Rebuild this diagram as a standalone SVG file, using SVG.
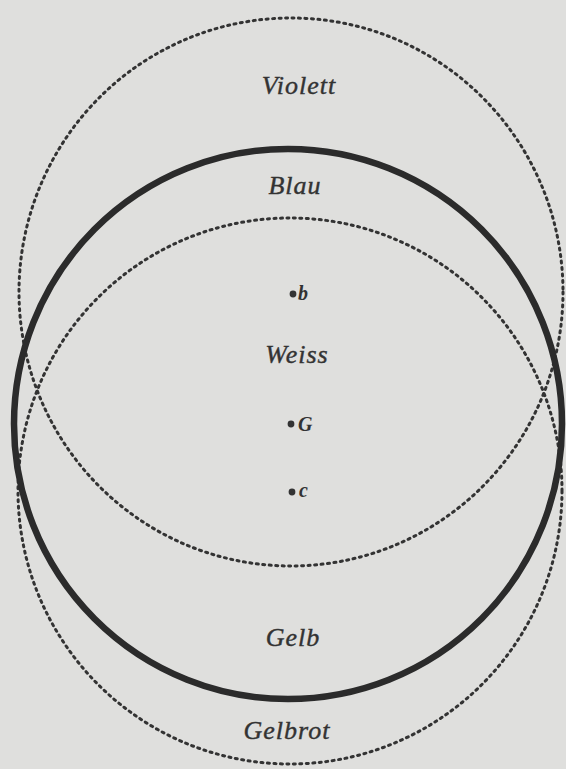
<svg xmlns="http://www.w3.org/2000/svg" width="566" height="769" viewBox="0 0 566 769">
<style>
.bg{fill:#dfdfdd}
.thick{fill:none;stroke:#2b2b2b;stroke-width:6.5}
.dot{fill:none;stroke:#333;stroke-width:3;stroke-dasharray:2 4.5;stroke-linecap:round}
.lbl{font-family:"Liberation Serif","DejaVu Serif",serif;font-style:italic;font-size:26px;letter-spacing:1px;fill:#333;text-anchor:middle;stroke:#333;stroke-width:0.4}
.pt{fill:#333}
.ptl{font-family:"Liberation Serif","DejaVu Serif",serif;font-style:italic;font-weight:bold;font-size:20px;fill:#333}
</style>
<rect class="bg" x="0" y="0" width="566" height="769"/>
<g id="connectors">
<ellipse id="upper" class="dot" cx="291" cy="292" rx="272" ry="274"/>
<ellipse id="lower" class="dot" cx="290" cy="491" rx="272" ry="273"/>
<ellipse id="main" class="thick" cx="288" cy="424" rx="274" ry="275"/>
</g>
<g id="violett"><text class="lbl" x="299" y="94">Violett</text></g>
<g id="blau"><text class="lbl" x="295" y="194">Blau</text></g>
<g id="b"><circle class="pt" cx="293" cy="294" r="3.4"/><text class="ptl" x="298" y="300">b</text></g>
<g id="weiss"><text class="lbl" x="297" y="363">Weiss</text></g>
<g id="G"><circle class="pt" cx="291" cy="424" r="3.4"/><text class="ptl" x="298" y="431">G</text></g>
<g id="c"><circle class="pt" cx="292" cy="492" r="3.4"/><text class="ptl" x="299" y="497">c</text></g>
<g id="gelb"><text class="lbl" x="293" y="646">Gelb</text></g>
<g id="gelbrot"><text class="lbl" x="287" y="739">Gelbrot</text></g>
</svg>
